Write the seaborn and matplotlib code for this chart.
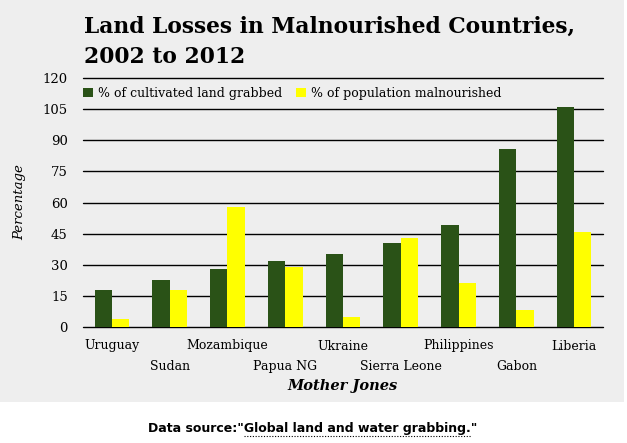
"""
Grouped bar chart: land losses in malnourished countries, 2002 to 2012.
"""

import matplotlib
matplotlib.use('Agg')
import matplotlib.pyplot as plt
from matplotlib.patches import Rectangle
from matplotlib.lines import Line2D
import pandas as pd
import seaborn as sns

countries = ['Uruguay', 'Sudan', 'Mozambique', 'Papua NG', 'Ukraine',
             'Sierra Leone', 'Philippines', 'Gabon', 'Liberia']
land_grabbed = [18, 22.5, 28, 32, 35, 40.5, 49, 86, 106]
malnourished = [4, 18, 58, 29, 5, 43, 21, 8, 46]
series_names = ['% of cultivated land grabbed', '% of population malnourished']
y_ticks = [0, 15, 30, 45, 60, 75, 90, 105, 120]

GRAY = '#eeeeee'
GREEN = '#2a5217'
YELLOW = '#ffff00'

df = pd.DataFrame({
    'Country': countries * 2,
    'Value': land_grabbed + malnourished,
    'Series': [series_names[0]] * len(countries) + [series_names[1]] * len(countries),
})

sns.set_theme(style='white')
plt.rcParams['font.family'] = ['DejaVu Serif']
plt.rcParams['text.color'] = 'black'
plt.rcParams['xtick.color'] = 'black'
plt.rcParams['ytick.color'] = 'black'
plt.rcParams['axes.labelcolor'] = 'black'

W, H = 627, 443
fig = plt.figure(figsize=(W / 100, H / 100), dpi=100)
fig.patch.set_facecolor('white')
# gray card behind the chart, white strip at the bottom for the source line
fig.patches.append(Rectangle((0, 1 - 402 / H), 624 / W, 402 / H,
                             transform=fig.transFigure, facecolor=GRAY,
                             edgecolor='none', zorder=-5))

ax = fig.add_axes([83 / W, 1 - 327 / H, 520 / W, 249 / H])
ax.set_facecolor(GRAY)

sns.barplot(data=df, x='Country', y='Value', hue='Series',
            palette=[GREEN, YELLOW], width=0.6, saturation=1,
            linewidth=0, edgecolor='none', ax=ax, zorder=3)

ax.set_ylim(0, 120)
ax.set_xlim(-0.5, len(countries) - 0.5)
ax.set_yticks(y_ticks)
ax.set_yticklabels([str(t) for t in y_ticks], fontsize=9.5)
ax.tick_params(axis='y', length=0, pad=11)
ax.tick_params(axis='x', length=0)
for t in y_ticks:
    ax.axhline(t, color='black', linewidth=1.0, zorder=1, clip_on=False)

# staggered country labels: every second one sits one row lower
ax.set_xticks(range(len(countries)))
ax.set_xticklabels(countries, fontsize=9)
for i, tick in enumerate(ax.xaxis.get_major_ticks()):
    tick.set_pad(9 if i % 2 == 0 else 24)

for s in ax.spines.values():
    s.set_visible(False)

ax.set_ylabel('Percentage', fontsize=9.5, style='italic', labelpad=12)
ax.set_xlabel('Mother Jones', fontsize=10.5, style='italic', weight='bold', labelpad=4)

handles, _ = ax.get_legend_handles_labels()
ax.legend(handles, series_names, loc='upper left', ncol=2, frameon=False,
          fontsize=9, handlelength=0.8, handleheight=0.8, handletextpad=0.4,
          columnspacing=1.1, borderaxespad=0, borderpad=0.2,
          bbox_to_anchor=(-0.005, 0.975))

fig.text(84 / W, 1 - 63 / H, 'Land Losses in Malnourished Countries,\n2002 to 2012',
         fontsize=15.7, weight='bold', ha='left', va='baseline', linespacing=1.5)

src_font = dict(fontsize=9, weight='bold', family='DejaVu Sans')
src = fig.text(313 / W, 1 - 432 / H, 'Data source:"Global land and water grabbing."',
               ha='center', va='baseline', **src_font)

# dotted link underline below the quoted source title
fig.canvas.draw()
renderer = fig.canvas.get_renderer()
bb = src.get_window_extent(renderer)
tmp = fig.text(0, 0, 'Data source:"', **src_font)
pre_w = tmp.get_window_extent(renderer).width
tmp.set_text('"')
post_w = tmp.get_window_extent(renderer).width
tmp.remove()
y_line = (bb.y0 - 0.5) / H
fig.add_artist(Line2D([(bb.x0 + pre_w) / W, (bb.x1 - post_w) / W], [y_line, y_line],
                      transform=fig.transFigure, color='black', linewidth=0.8,
                      linestyle=(0, (1, 1.5))))

fig.savefig('out.png', dpi=100)
